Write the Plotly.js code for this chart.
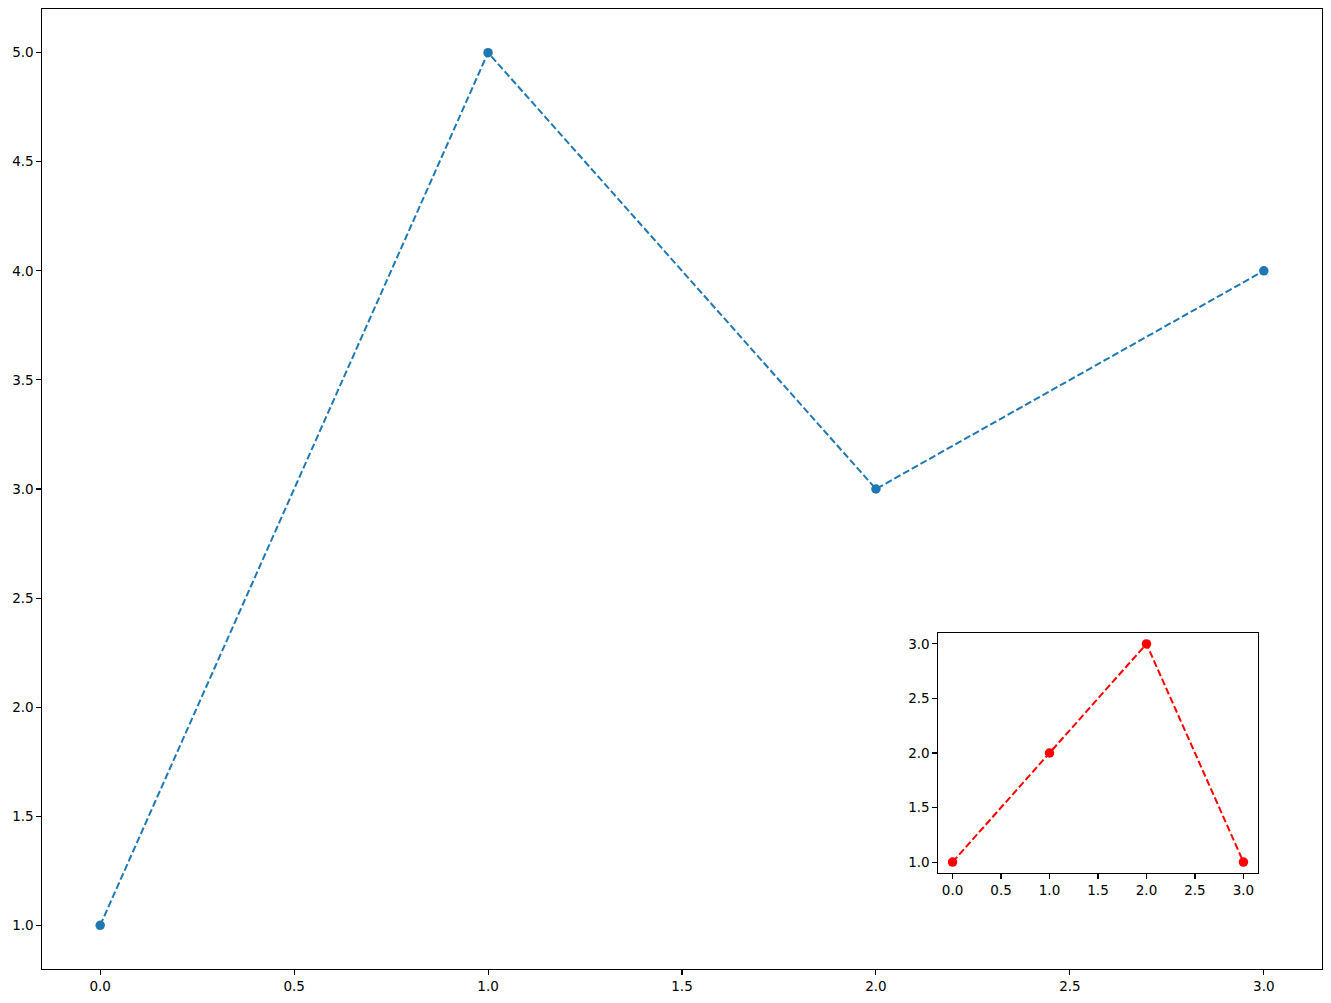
<!DOCTYPE html>
<html>
<head>
<meta charset="utf-8">
<script src="https://cdn.plot.ly/plotly-3.0.1.min.js"></script>
<style>html,body{margin:0;padding:0;background:#fff;}#chart{width:1331px;height:1003px;}</style>
</head>
<body>
<div id="chart"></div>
<script>
const mainX = [0, 1, 2, 3];
const mainY = [1, 5, 3, 4];
const insetX = [0, 1, 2, 3];
const insetY = [1, 2, 3, 1];

const font = {family: 'DejaVu Sans', size: 13.5, color: '#000'};
const axisCommon = {
  showgrid: false, zeroline: false, showline: true, mirror: true,
  linecolor: '#000', linewidth: 1.1, ticks: 'outside', ticklen: 4.5,
  tickwidth: 1.1, tickcolor: '#000', tickformat: '.1f', tickfont: font
};

const traces = [
  {x: mainX, y: mainY, type: 'scatter', mode: 'lines+markers',
   line: {color: '#1f77b4', width: 2, dash: '7px,3px'},
   marker: {color: '#1f77b4', size: 9.5}, xaxis: 'x', yaxis: 'y', hoverinfo: 'none'},
  {x: insetX, y: insetY, type: 'scatter', mode: 'lines+markers',
   line: {color: '#ff0000', width: 2, dash: '7px,3px'},
   marker: {color: '#ff0000', size: 9.5}, xaxis: 'x2', yaxis: 'y2', hoverinfo: 'none'}
];

const layout = {
  width: 1331, height: 1003,
  margin: {l: 42, r: 9, t: 9, b: 34},
  paper_bgcolor: '#fff', plot_bgcolor: '#fff',
  showlegend: false, font: font,
  xaxis: Object.assign({}, axisCommon, {range: [-0.15, 3.15], dtick: 0.5, tick0: 0, domain: [0, 1], anchor: 'y'}),
  yaxis: Object.assign({}, axisCommon, {range: [0.8, 5.2], dtick: 0.5, tick0: 0, domain: [0, 1], anchor: 'x'}),
  xaxis2: Object.assign({}, axisCommon, {range: [-0.15, 3.15], dtick: 0.5, tick0: 0, domain: [0.7, 0.95], anchor: 'y2'}),
  yaxis2: Object.assign({}, axisCommon, {range: [0.9, 3.1], dtick: 0.5, tick0: 0, domain: [0.1, 0.35], anchor: 'x2'}),
  shapes: [{type: 'rect', xref: 'paper', yref: 'paper', x0: 0.7, x1: 0.95, y0: 0.1, y1: 0.35,
            fillcolor: '#fff', line: {width: 0}, layer: 'below'}]
};

Plotly.newPlot('chart', traces, layout, {displayModeBar: false, staticPlot: true});
</script>
</body>
</html>
